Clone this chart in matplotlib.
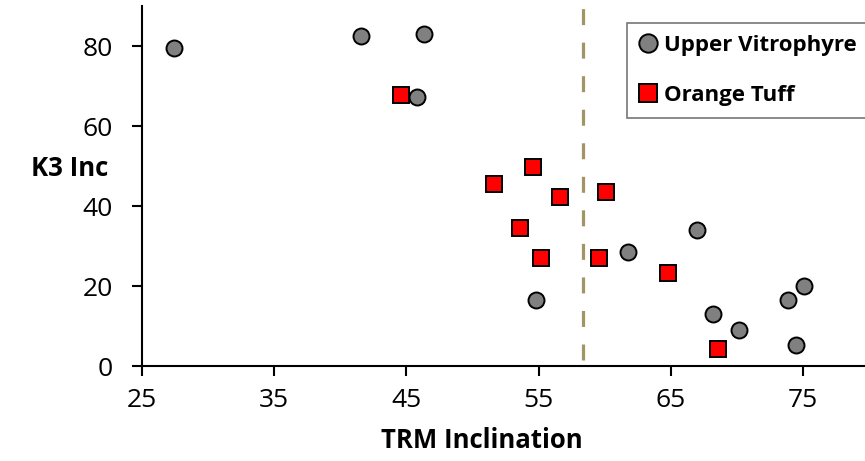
import matplotlib
matplotlib.use("Agg")
import matplotlib.pyplot as plt

plt.rcParams['font.family'] = ['Open Sans', 'DejaVu Sans']

# Upper Vitrophyre (gray circles)
uv_trm = [27.4, 41.6, 46.3, 45.8, 54.8, 61.8, 67.0, 68.2, 70.2, 73.9, 75.1, 74.5]
uv_k3 = [79.5, 82.5, 83.0, 67.2, 16.5, 28.5, 34.0, 13.0, 9.0, 16.5, 20.0, 5.2]

# Orange Tuff (red squares)
ot_trm = [44.6, 51.6, 54.6, 53.6, 56.6, 55.2, 60.1, 59.6, 64.8, 68.6]
ot_k3 = [67.7, 45.5, 49.7, 34.5, 42.2, 27.0, 43.5, 27.0, 23.2, 4.2]

cutoff = 58.4
xticks = [25, 35, 45, 55, 65, 75]
yticks = [0, 20, 40, 60, 80]

fig = plt.figure(figsize=(8.65, 4.61), dpi=100)
ax = fig.add_axes([142 / 865, 1 - 366 / 461, 727 / 865, 360 / 461])

ax.plot([cutoff, cutoff], [1.5, 90], color='#A39466', lw=2.3,
        dashes=(5, 5.5), zorder=1)

ax.plot(uv_trm, uv_k3, 'o', ms=11.5, mfc='#808080', mec='black', mew=1.4,
        ls='none', label='Upper Vitrophyre', zorder=3)
ax.plot(ot_trm, ot_k3, 's', ms=11, mfc='#FF0000', mec='black', mew=1.4,
        ls='none', label='Orange Tuff', zorder=3)

ax.set_xlim(25, 80)
ax.set_ylim(0, 90)
ax.set_xticks(xticks)
ax.set_yticks(yticks)
ax.spines['top'].set_visible(False)
ax.spines['right'].set_visible(False)
ax.spines['left'].set_linewidth(1.5)
ax.spines['bottom'].set_linewidth(1.5)
ax.tick_params(direction='out', length=7, width=1.5, labelsize=19)
ax.tick_params(axis='x', pad=9)
ax.tick_params(axis='y', pad=14)

ax.set_xlabel('TRM Inclination', fontsize=18.5, fontweight='bold',
              va='center')
ax.xaxis.set_label_coords((482 - 142) / 727, -(440 - 366) / 360)
ax.set_ylabel('K3 Inc', fontsize=18.5, fontweight='bold', rotation=0,
              va='center', ha='center')
ax.yaxis.set_label_coords((70 - 142) / 727, (366 - 168) / 360)

leg = ax.legend(loc='upper left',
                bbox_to_anchor=((627 - 142) / 727, (366 - 23) / 360),
                prop={'weight': 'bold', 'size': 16}, borderaxespad=0,
                frameon=True, fancybox=False, handletextpad=0.3,
                handlelength=0.8, borderpad=0.55, labelspacing=1.3,
                markerscale=1.15)
leg.get_frame().set_edgecolor('#555555')
leg.get_frame().set_linewidth(1.2)

fig.savefig('out.png', dpi=100)
